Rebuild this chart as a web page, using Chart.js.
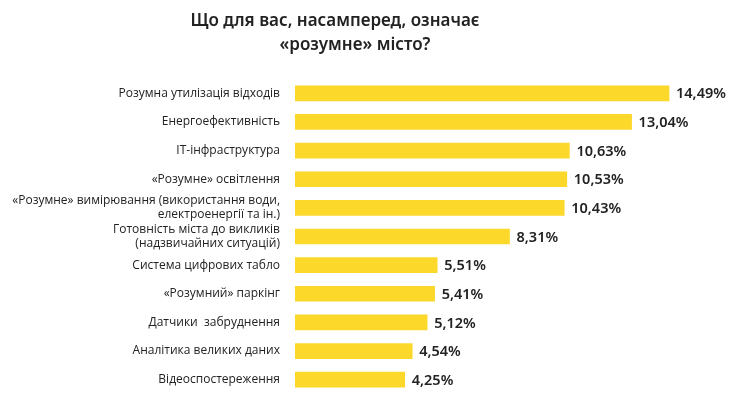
<!DOCTYPE html>
<html>
<head>
<meta charset="utf-8">
<script src="https://cdn.jsdelivr.net/npm/chart.js@4"></script>
<style>
  html, body { margin: 0; padding: 0; background: #fff; }
  #wrap { width: 740px; height: 394px; }
</style>
</head>
<body>
<div id="wrap"><canvas id="myChart" width="740" height="394"></canvas></div>
<script>
const titleLines = ['Що для вас, насамперед, означає', '«розумне» місто?'];

const categories = [
  'Розумна утилізація відходів',
  'Енергоефективність',
  'IT-інфраструктура',
  '«Розумне» освітлення',
  ['«Розумне» вимірювання (використання води,', 'електроенергії та ін.)'],
  ['Готовність міста до викликів', '(надзвичайних ситуацій)'],
  'Система цифрових табло',
  '«Розумний» паркінг',
  'Датчики  забруднення',
  'Аналітика великих даних',
  'Відеоспостереження'
];

const values = [14.49, 13.04, 10.63, 10.53, 10.43, 8.31, 5.51, 5.41, 5.12, 4.54, 4.25];

const barColor = '#FCD82A';
const textColor = '#222222';

// title drawn by hand so it can sit off-centre like the original
const titlePlugin = {
  id: 'titleText',
  afterDraw(chart) {
    const ctx = chart.ctx;
    ctx.save();
    ctx.fillStyle = textColor;
    ctx.font = '600 17px "Noto Sans"';
    ctx.textAlign = 'center';
    ctx.textBaseline = 'alphabetic';
    ctx.fillText(titleLines[0], 335, 26);
    ctx.fillText(titleLines[1], 355, 50);
    ctx.restore();
  }
};

const valueLabels = {
  id: 'valueLabels',
  afterDatasetsDraw(chart) {
    const ctx = chart.ctx;
    const meta = chart.getDatasetMeta(0);
    ctx.save();
    ctx.fillStyle = textColor;
    ctx.font = '600 14.5px "Noto Sans"';
    ctx.textAlign = 'left';
    ctx.textBaseline = 'middle';
    meta.data.forEach((bar, i) => {
      const txt = values[i].toFixed(2).replace('.', ',') + '%';
      ctx.fillText(txt, bar.x + 7, bar.y + 1);
    });
    ctx.restore();
  }
};

const ctx = document.getElementById('myChart').getContext('2d');
new Chart(ctx, {
  type: 'bar',
  data: {
    labels: categories,
    datasets: [{
      data: values,
      backgroundColor: barColor,
      borderWidth: 0,
      barThickness: 15
    }]
  },
  options: {
    indexAxis: 'y',
    responsive: false,
    animation: false,
    layout: { padding: { top: 79, bottom: 0, left: 0, right: 0 } },
    plugins: {
      legend: { display: false },
      title: { display: false },
      tooltip: { enabled: false }
    },
    scales: {
      x: {
        display: false,
        min: 0,
        max: 17.24
      },
      y: {
        grid: { display: false, drawTicks: false },
        border: { display: false },
        ticks: {
          color: textColor,
          padding: 15,
          autoSkip: false,
          font: { family: 'Open Sans', size: 12 }
        },
        afterFit(scale) {
          scale.width = 295;
          scale.paddingTop = 0;
          scale.paddingBottom = 0;
        }
      }
    }
  },
  plugins: [titlePlugin, valueLabels]
});
</script>
</body>
</html>
